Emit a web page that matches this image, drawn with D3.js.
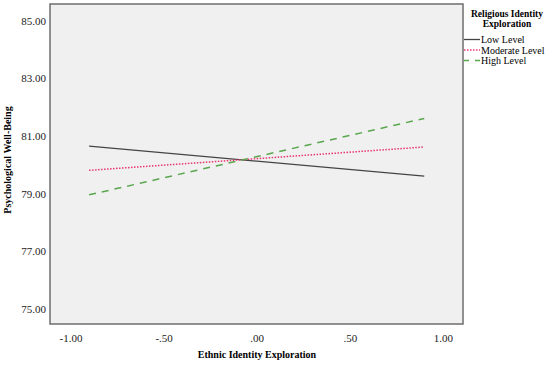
<!DOCTYPE html>
<html>
<head>
<meta charset="utf-8">
<script src="https://cdn.jsdelivr.net/npm/d3@7"></script>
<style>
  body { margin: 0; background: #fff; }
  svg { display: block; font-family: "Liberation Serif", "Times New Roman", serif; }
</style>
</head>
<body>
<svg id="chart" width="550" height="365"></svg>
<script>
// data
const xValues = [-0.9, 0.9];
const seriesNames = ["Low Level", "Moderate Level", "High Level"];
const lowLevel = [80.65, 79.61];
const moderateLevel = [79.81, 80.62];
const highLevel = [78.96, 81.61];
const xTicks = [-1, -0.5, 0, 0.5, 1];
const yTicks = [75, 77, 79, 81, 83, 85];

const colors = ["#444444", "#e8366e", "#5aa64f"];
const dashes = [null, "1.5,1.5", "7,6"];
const serif = "'Liberation Serif', 'Times New Roman', serif";

const svg = d3.select("#chart");
const plot = { left: 50, top: 4, right: 463, bottom: 324 };

const x = d3.scaleLinear().domain([-1.11, 1.108]).range([plot.left, plot.right]);
const y = d3.scaleLinear().domain([74.48, 85.58]).range([plot.bottom, plot.top]);

svg.append("rect")
    .attr("x", plot.left).attr("y", plot.top)
    .attr("width", plot.right - plot.left).attr("height", plot.bottom - plot.top)
    .attr("fill", "#f0f0f0")
    .attr("stroke", "#6e6e6e")
    .attr("stroke-width", 1.5);

// SPSS style labels: "-.50", ".00", "1.00"
function spss(d) {
    return d.toFixed(2).replace(/^(-?)0\./, "$1.");
}

// axes (no tick marks, just labels)
const xAxis = svg.append("g")
    .attr("transform", "translate(0," + plot.bottom + ")")
    .call(d3.axisBottom(x).tickValues(xTicks).tickSize(0).tickPadding(10).tickFormat(spss))
    .attr("font-family", serif)
    .attr("font-size", 11);
xAxis.select(".domain").remove();
xAxis.selectAll("text").attr("fill", "#222");

const yAxis = svg.append("g")
    .attr("transform", "translate(" + plot.left + ",0)")
    .call(d3.axisLeft(y).tickValues(yTicks).tickSize(0).tickPadding(4).tickFormat(d => d.toFixed(2)))
    .attr("font-family", serif)
    .attr("font-size", 11);
yAxis.select(".domain").remove();
yAxis.selectAll("text").attr("fill", "#222");

svg.append("text")
    .attr("x", 257).attr("y", 358)
    .attr("text-anchor", "middle")
    .attr("font-size", 10).attr("font-weight", "bold")
    .text("Ethnic Identity Exploration");

svg.append("text")
    .attr("transform", "translate(11,160) rotate(-90)")
    .attr("text-anchor", "middle")
    .attr("font-size", 10).attr("font-weight", "bold")
    .text("Psychological Well-Being");

// lines
const series = [lowLevel, moderateLevel, highLevel];
const line = d3.line().x((d, i) => x(xValues[i])).y(d => y(d));

svg.selectAll(".series")
    .data(series)
    .enter()
    .append("path")
    .attr("d", d => line(d))
    .attr("fill", "none")
    .attr("stroke", (d, i) => colors[i])
    .attr("stroke-width", (d, i) => i == 0 ? 1.3 : 1.5)
    .attr("stroke-dasharray", (d, i) => dashes[i]);

// legend
const legend = svg.append("g");
legend.append("text")
    .attr("x", 507).attr("y", 17)
    .attr("text-anchor", "middle")
    .attr("font-size", 9.5).attr("font-weight", "bold")
    .text("Religious Identity");
legend.append("text")
    .attr("x", 507).attr("y", 27)
    .attr("text-anchor", "middle")
    .attr("font-size", 9.5).attr("font-weight", "bold")
    .text("Exploration");

seriesNames.forEach((name, i) => {
    const ly = 39.5 + i * 10.5;
    legend.append("line")
        .attr("x1", 464).attr("x2", 480)
        .attr("y1", ly).attr("y2", ly)
        .attr("stroke", colors[i])
        .attr("stroke-width", 1.3)
        .attr("stroke-dasharray", i == 2 ? "5,6" : dashes[i]);
    legend.append("text")
        .attr("x", 481).attr("y", ly + 3.5)
        .attr("font-size", 10)
        .text(name);
});
</script>
</body>
</html>
